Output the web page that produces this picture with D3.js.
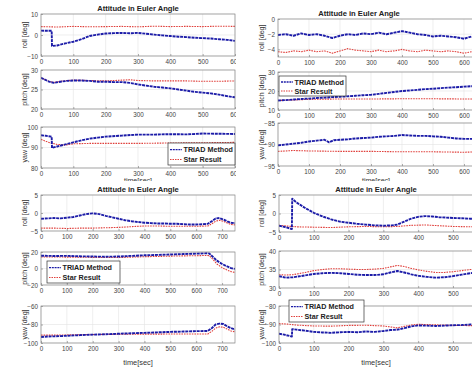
<!DOCTYPE html>
<html><head><meta charset="utf-8">
<script src="https://cdn.jsdelivr.net/npm/d3@7"></script>
<style>body{margin:0;background:#fff}svg{display:block;font-family:"Liberation Sans",Arial,sans-serif}</style>
</head><body><svg id="c" width="472" height="370"></svg>
<script>
// ---------- DATA ----------
const seriesNames = ["TRIAD Method", "Star Result"];
const subplotNames = ["roll [deg]", "pitch [deg]", "yaw [deg]"];
const titleText = "Attitude in Euler Angle";
const xLabelText = "time[sec]";

// Panel A (top-left)
const aXTicks = [0,100,200,300,400,500,600];
const aRollTicks = [10,0,-10], aPitchTicks = [30,25,20], aYawTicks = [100,90,80];
const aRollTriad = [[0,2.1],[15,2.0],[33,2.0],[34,-5.2],[50,-5.0],[75,-4.0],[100,-3.2],[125,-2.0],[150,-0.5],[175,0.2],[200,0.7],[225,0.9],[250,1.0],[275,0.8],[300,1.0],[325,0.6],[350,0.2],[375,-0.2],[400,-0.5],[425,-0.8],[450,-1.0],[475,-1.3],[500,-1.5],[525,-1.7],[550,-2.0],[575,-2.3],[600,-2.8]];
const aRollStar = [[0,4.0],[50,3.8],[100,4.1],[150,3.9],[200,4.0],[250,4.1],[300,3.9],[350,4.2],[400,4.0],[450,4.1],[500,4.0],[550,4.2],[600,4.1]];
const aPitchTriad = [[0,28.0],[10,27.6],[25,27.0],[40,26.7],[60,27.0],[80,27.2],[100,27.3],[125,27.3],[150,27.2],[175,27.0],[200,27.0],[225,26.9],[250,26.9],[275,26.7],[300,26.3],[325,26.0],[350,25.7],[375,25.5],[400,25.3],[425,25.0],[450,24.7],[475,24.4],[500,24.2],[525,24.0],[550,23.7],[575,23.3],[600,23.0]];
const aPitchStar = [[0,28.0],[10,27.6],[25,27.1],[40,26.8],[60,27.1],[80,27.3],[100,27.4],[150,27.3],[200,27.2],[250,27.4],[275,27.5],[300,27.3],[350,27.2],[400,27.2],[450,27.2],[500,27.1],[550,27.1],[600,27.2]];
const aYawTriad = [[0,96.0],[15,95.7],[33,95.3],[34,89.8],[50,90.5],[75,91.5],[100,92.5],[125,93.5],[150,94.3],[175,94.8],[200,95.3],[250,95.8],[300,96.3],[350,96.3],[400,96.5],[450,96.4],[500,96.8],[550,96.7],[600,96.6]];
const aYawStar = [[0,94.0],[15,93.0],[30,92.2],[50,91.5],[75,91.2],[100,91.8],[150,92.0],[200,92.0],[300,92.0],[400,92.2],[500,92.3],[600,92.5]];

// Panel B (top-right)
const bXTicks = [0,100,200,300,400,500,600];
const bRollTicks = [0,-2,-4], bPitchTicks = [30,20,10], bYawTicks = [-85,-90,-95];
const bRollTriad = [[0,-2.1],[25,-2.0],[50,-2.2],[75,-1.9],[100,-2.1],[125,-2.0],[150,-2.2],[175,-2.5],[200,-2.2],[225,-2.0],[250,-2.1],[275,-1.9],[300,-2.0],[325,-1.8],[350,-2.0],[375,-1.8],[400,-1.6],[425,-1.8],[450,-2.0],[475,-2.1],[500,-2.3],[525,-2.2],[550,-2.3],[575,-2.4],[600,-2.6],[625,-2.3],[650,-2.2]];
const bRollStar = [[0,-4.3],[25,-4.4],[50,-4.2],[75,-4.3],[100,-4.1],[125,-4.3],[150,-4.2],[175,-4.5],[200,-4.2],[225,-3.9],[250,-4.1],[275,-4.2],[300,-4.3],[325,-4.1],[350,-4.3],[375,-4.2],[400,-4.0],[425,-4.2],[450,-4.3],[475,-4.1],[500,-4.2],[525,-4.3],[550,-4.2],[575,-4.3],[600,-4.5],[625,-4.3],[650,-4.2]];
const bPitchTriad = [[0,15.0],[25,15.2],[50,15.5],[75,15.8],[100,16.0],[125,16.3],[150,16.5],[175,16.8],[200,17.0],[225,17.2],[250,17.5],[275,17.8],[300,18.0],[325,18.5],[350,19.0],[375,19.5],[400,20.0],[425,20.3],[450,20.6],[475,21.0],[500,21.2],[525,21.5],[550,21.8],[575,22.0],[600,22.3],[625,22.5],[650,22.4]];
const bPitchStar = [[0,15.0],[50,15.3],[100,15.6],[200,15.8],[300,15.8],[400,15.9],[500,15.9],[600,15.8],[650,15.8]];
const bYawTriad = [[0,-90.2],[25,-90.0],[50,-89.8],[75,-89.6],[100,-89.3],[125,-89.1],[150,-88.9],[165,-89.5],[180,-89.0],[200,-88.9],[225,-88.8],[250,-88.6],[275,-88.5],[300,-88.4],[325,-88.2],[350,-88.1],[375,-88.0],[400,-87.8],[425,-87.9],[450,-88.0],[475,-88.0],[500,-88.1],[525,-88.2],[550,-88.4],[575,-88.6],[600,-88.7],[625,-88.7],[650,-88.8]];
const bYawStar = [[0,-91.6],[50,-91.4],[100,-91.5],[200,-91.6],[300,-91.6],[400,-91.7],[500,-91.7],[600,-91.8],[650,-91.7]];

// Panel C (bottom-left)
const cXTicks = [0,100,200,300,400,500,600,700];
const cRollTicks = [5,0,-5], cPitchTicks = [20,0,-20], cYawTicks = [-60,-80,-100];
const cRollTriad = [[0,-1.6],[25,-1.5],[50,-1.4],[75,-1.5],[100,-1.3],[125,-1.1],[150,-0.7],[175,-0.3],[200,-0.1],[225,-0.3],[250,-0.8],[275,-1.2],[300,-1.6],[325,-2.0],[350,-2.3],[375,-2.5],[400,-2.7],[425,-2.8],[450,-2.9],[475,-2.9],[500,-3.0],[525,-3.0],[550,-3.1],[575,-3.2],[600,-3.2],[625,-3.1],[645,-3.0],[660,-2.3],[675,-1.5],[690,-1.4],[705,-1.8],[720,-2.3],[735,-2.7],[750,-2.8]];
const cRollStar = [[0,-4.2],[50,-4.2],[100,-4.3],[150,-4.2],[200,-4.2],[250,-4.1],[300,-4.0],[350,-3.8],[400,-3.6],[450,-3.6],[500,-3.7],[550,-3.7],[600,-3.7],[645,-3.6],[660,-3.0],[675,-2.3],[690,-2.0],[705,-2.3],[720,-2.8],[735,-3.2],[750,-3.3]];
const cPitchTriad = [[0,15.5],[50,15.2],[100,15.3],[150,14.8],[200,14.5],[250,14.3],[300,14.5],[350,15.3],[400,16.0],[450,16.5],[500,17.0],[550,17.5],[600,18.0],[640,18.5],[650,18.3],[665,14.0],[680,9.5],[700,5.5],[720,2.5],[735,0.5],[750,-0.5]];
const cPitchStar = [[0,14.0],[50,14.0],[100,13.8],[150,13.7],[200,13.5],[250,13.3],[300,13.3],[350,13.8],[400,14.3],[450,14.6],[500,15.0],[550,15.3],[600,15.5],[640,15.8],[650,15.6],[665,11.0],[680,5.5],[700,1.0],[720,-2.0],[735,-3.8],[750,-4.8]];
const cYawTriad = [[0,-93.5],[25,-93.0],[50,-92.8],[100,-92.2],[150,-91.5],[200,-91.0],[250,-90.5],[300,-90.0],[350,-89.5],[400,-89.0],[450,-88.5],[500,-88.0],[550,-87.6],[600,-87.2],[645,-87.0],[660,-84.0],[675,-80.0],[690,-79.0],[705,-79.5],[720,-82.0],[735,-84.0],[750,-85.5]];
const cYawStar = [[0,-91.5],[50,-91.5],[100,-91.3],[150,-91.0],[200,-90.8],[250,-90.7],[300,-90.6],[350,-90.5],[400,-90.4],[450,-90.4],[500,-90.3],[550,-90.3],[600,-90.2],[645,-90.2],[660,-87.5],[675,-84.0],[690,-82.5],[705,-83.0],[720,-85.0],[735,-87.0],[750,-88.0]];

// Panel D (bottom-right)
const dXTicks = [0,100,200,300,400,500];
const dRollTicks = [5,0,-5], dPitchTicks = [40,35,30], dYawTicks = [-80,-90,-100];
const dRollTriad = [[0,-3.3],[15,-3.6],[30,-4.0],[37,-4.2],[38,4.0],[50,3.0],[75,1.5],[100,0.2],[125,-0.8],[150,-1.6],[175,-2.2],[200,-2.5],[225,-2.8],[250,-3.0],[275,-3.2],[300,-3.3],[325,-3.2],[340,-3.0],[360,-2.2],[380,-1.4],[400,-0.9],[420,-0.7],[440,-0.8],[460,-1.0],[480,-1.1],[500,-1.2],[525,-1.3],[550,-1.4],[575,-1.4],[600,-1.5]];
const dRollStar = [[0,-3.2],[25,-3.4],[50,-3.6],[100,-3.7],[150,-3.8],[200,-3.6],[250,-3.5],[300,-3.6],[340,-3.5],[380,-3.2],[420,-3.1],[460,-3.3],[500,-3.5],[550,-3.6],[600,-3.6]];
const dPitchTriad = [[0,33.2],[20,32.8],[40,32.9],[75,33.4],[100,33.8],[125,34.0],[150,34.1],[175,34.0],[200,33.8],[225,33.6],[250,33.5],[275,33.5],[300,33.7],[320,34.2],[340,34.6],[360,34.2],[380,33.7],[400,33.3],[425,33.0],[450,32.8],[475,32.9],[500,33.2],[525,33.6],[550,34.0],[575,34.2],[600,34.3]];
const dPitchStar = [[0,33.6],[20,33.5],[40,33.6],[75,34.2],[100,34.7],[125,35.0],[150,35.2],[175,35.2],[200,35.1],[225,35.0],[250,35.0],[275,35.1],[300,35.3],[320,35.7],[340,36.1],[360,35.8],[380,35.3],[400,34.9],[425,34.5],[450,34.2],[475,34.2],[500,34.4],[525,34.7],[550,35.0],[575,35.2],[600,35.3]];
const dYawTriad = [[0,-95.0],[15,-95.5],[30,-96.2],[37,-96.5],[38,-92.5],[50,-92.8],[75,-93.3],[100,-94.0],[125,-94.3],[150,-94.5],[175,-94.2],[200,-94.0],[225,-94.2],[250,-93.8],[275,-94.0],[300,-93.5],[320,-93.0],[340,-92.8],[360,-92.0],[380,-91.0],[400,-90.5],[425,-90.6],[450,-90.8],[475,-90.6],[500,-90.4],[525,-90.3],[550,-90.0],[575,-90.2],[600,-90.0]];
const dYawStar = [[0,-89.5],[25,-89.8],[50,-90.3],[100,-90.8],[150,-90.9],[200,-90.5],[250,-90.4],[300,-90.8],[340,-91.8],[360,-91.0],[380,-90.3],[400,-89.9],[450,-90.2],[500,-90.5],[550,-90.6],[600,-90.7]];

// ---------- LAYOUT ----------
const panels = [
  { clip:[0,0,236,181], xDom:[0,600], xRange:[41,235], xTicks:aXTicks, title:[138,11], ylabX:27, xlab:[138,182.5], xlabSize:7, legend:{sub:2,x:168,y:143,w:67,h:22},
    subs:[ {yDom:[-10,10], yRange:[56,14], ticks:aRollTicks, data:[aRollTriad,aRollStar]},
           {yDom:[20,30], yRange:[109,70], ticks:aPitchTicks, data:[aPitchTriad,aPitchStar]},
           {yDom:[80,100], yRange:[168,127], ticks:aYawTicks, data:[aYawTriad,aYawStar]} ] },
  { clip:[236,0,236,181], xDom:[0,650], xRange:[278,479.5], xTicks:bXTicks, title:[359,16], ylabX:264, xlab:[376,182.5], xlabSize:7, legend:{sub:1,x:279,y:76,w:67,h:20},
    subs:[ {yDom:[-5,0], yRange:[57,19], ticks:bRollTicks, data:[bRollTriad,bRollStar]},
           {yDom:[10,30], yRange:[110,72], ticks:bPitchTicks, data:[bPitchTriad,bPitchStar]},
           {yDom:[-95,-85], yRange:[166,123], ticks:bYawTicks, data:[bYawTriad,bYawStar]} ] },
  { clip:[0,185,236,185], xDom:[0,750], xRange:[41,235], xTicks:cXTicks, title:[138,192], ylabX:27, xlab:[138,365], xlabSize:7.4, legend:{sub:1,x:47,y:261,w:73,h:22},
    subs:[ {yDom:[-5,5], yRange:[231,195], ticks:cRollTicks, data:[cRollTriad,cRollStar]},
           {yDom:[-20,20], yRange:[285,252], ticks:cPitchTicks, data:[cPitchTriad,cPitchStar]},
           {yDom:[-100,-60], yRange:[343,306], ticks:cYawTicks, data:[cYawTriad,cYawStar]} ] },
  { clip:[236,185,236,185], xDom:[0,600], xRange:[279,487.8], xTicks:dXTicks, title:[376,192], ylabX:264, xlab:[376,365], xlabSize:7.4, legend:{sub:2,x:289,y:300,w:75,h:22},
    subs:[ {yDom:[-5,5], yRange:[232,195], ticks:dRollTicks, data:[dRollTriad,dRollStar]},
           {yDom:[30,40], yRange:[288,251], ticks:dPitchTicks, data:[dPitchTriad,dPitchStar]},
           {yDom:[-100,-80], yRange:[343,306], ticks:dYawTicks, data:[dYawTriad,dYawStar]} ] }
];

const colors = ["#1c1ca8", "#e0403c"];
const widths = [1.9, 1.1];
const dashes = ["3,0.8", "1.6,1"];

const svg = d3.select("#c");
const defs = svg.append("defs");

panels.forEach((p, pi) => {
  defs.append("clipPath").attr("id","pc"+pi).append("rect")
    .attr("x",p.clip[0]).attr("y",p.clip[1]).attr("width",p.clip[2]).attr("height",p.clip[3]);
  const g = svg.append("g").attr("clip-path","url(#pc"+pi+")");
  const x = d3.scaleLinear().domain(p.xDom).range(p.xRange);

  g.append("text").attr("x",p.title[0]).attr("y",p.title[1]).attr("text-anchor","middle")
    .attr("font-size",7.6).attr("font-weight","bold").attr("fill","#222").text(titleText);
  g.append("text").attr("x",p.xlab[0]).attr("y",p.xlab[1]).attr("text-anchor","middle")
    .attr("font-size",p.xlabSize).attr("fill","#333").text(xLabelText);

  p.subs.forEach((s, si) => {
    const y = d3.scaleLinear().domain(s.yDom).range(s.yRange);
    const top = s.yRange[1], bot = s.yRange[0];
    const left = p.xRange[0], right = p.xRange[1];
    const sg = g.append("g");
    sg.append("rect").attr("x",left).attr("y",top).attr("width",right-left).attr("height",bot-top).attr("fill","#fff");
    sg.selectAll(".gx").data(p.xTicks).join("line")
      .attr("x1",d=>x(d)).attr("x2",d=>x(d)).attr("y1",top).attr("y2",bot)
      .attr("stroke","#e2e2e2").attr("stroke-width",0.6);
    sg.selectAll(".gy").data(s.ticks).join("line")
      .attr("y1",d=>y(d)).attr("y2",d=>y(d)).attr("x1",left).attr("x2",right)
      .attr("stroke","#e2e2e2").attr("stroke-width",0.6);
    const xAx = d3.axisBottom(x).tickValues(p.xTicks).tickSize(-2).tickPadding(4).tickFormat(d3.format("d"));
    const ax = sg.append("g").attr("transform",`translate(0,${bot})`).call(xAx);
    ax.select(".domain").remove();
    ax.selectAll("line").attr("stroke","#777").attr("stroke-width",0.6);
    ax.selectAll("text").attr("font-size",6.3).attr("fill","#444").attr("font-family","Liberation Sans, Arial");
    const yAx = d3.axisLeft(y).tickValues(s.ticks).tickSize(-2).tickPadding(3).tickFormat(d3.format("d"));
    const ay = sg.append("g").attr("transform",`translate(${left},0)`).call(yAx);
    ay.select(".domain").remove();
    ay.selectAll("line").attr("stroke","#777").attr("stroke-width",0.6);
    ay.selectAll("text").attr("font-size",6.3).attr("fill","#444").attr("font-family","Liberation Sans, Arial");
    const cid = `sc${pi}_${si}`;
    defs.append("clipPath").attr("id",cid).append("rect")
      .attr("x",left).attr("y",top).attr("width",right-left).attr("height",bot-top);
    const line = d3.line().x(d=>x(d[0])).y(d=>y(d[1]));
    const lg = sg.append("g").attr("clip-path",`url(#${cid})`);
    [1,0].forEach(k => {
      lg.append("path").datum(s.data[k]).attr("d",line).attr("fill","none")
        .attr("stroke",colors[k]).attr("stroke-width",widths[k]).attr("stroke-dasharray",dashes[k])
        .attr("stroke-linejoin","round");
    });
    sg.append("rect").attr("x",left).attr("y",top).attr("width",right-left).attr("height",bot-top)
      .attr("fill","none").attr("stroke","#8a8a8a").attr("stroke-width",0.7);
    sg.append("text").attr("transform",`translate(${p.ylabX},${(top+bot)/2}) rotate(-90)`)
      .attr("text-anchor","middle").attr("font-size",7).attr("fill","#333").text(subplotNames[si]);

    if (p.legend.sub === si) {
      const L = p.legend;
      const lgG = sg.append("g");
      lgG.append("rect").attr("x",L.x).attr("y",L.y).attr("width",L.w).attr("height",L.h)
        .attr("fill","#fff").attr("stroke","#333").attr("stroke-width",0.7);
      seriesNames.forEach((nm, k) => {
        const yy = L.y + L.h*(k===0?0.3:0.75);
        lgG.append("line").attr("x1",L.x+2).attr("x2",L.x+14).attr("y1",yy).attr("y2",yy)
          .attr("stroke",colors[k]).attr("stroke-width",k===0?1.4:1.1).attr("stroke-dasharray",k===0?"2,0.8":"1.5,1");
        lgG.append("text").attr("x",L.x+15.5).attr("y",yy+2.5).attr("font-size",7.2)
          .attr("font-weight","bold").attr("fill","#222").text(nm);
      });
    }
  });
});
</script></body></html>
